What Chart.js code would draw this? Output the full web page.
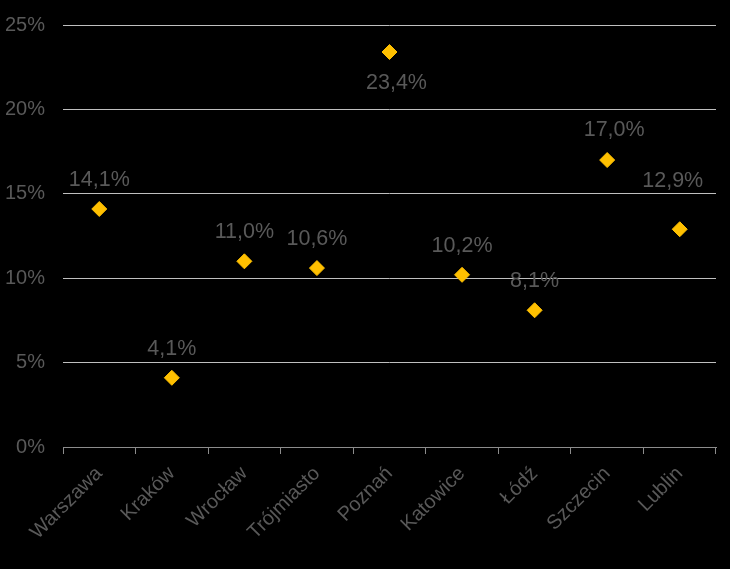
<!DOCTYPE html>
<html>
<head>
<meta charset="utf-8">
<script src="https://cdn.jsdelivr.net/npm/chart.js@4"></script>
<style>
  html, body { margin: 0; padding: 0; background: #000; }
  #wrap { width: 730px; height: 569px; }
</style>
</head>
<body>
<div id="wrap"><canvas id="chart"></canvas></div>
<script>
"use strict";

/* ── data ─────────────────────────────────────────────────────────────── */
const cities = ["Warszawa", "Kraków", "Wrocław", "Trójmiasto", "Poznań",
                "Katowice", "Łódź", "Szczecin", "Lublin"];
const values = [14.1, 4.1, 11.0, 10.6, 23.4, 10.2, 8.1, 17.0, 12.9];
const yTicks = [0, 5, 10, 15, 20, 25];

/* label placement tweaks (pixels), as in the original layout */
const labelNudge = {
  "Poznań":   { dx: 7,  dy: 31 },
  "Szczecin": { dx: 7,  dy: -30 },
  "Lublin":   { dx: -7, dy: -48 }
};

const FONT = "'Liberation Sans', Arial, sans-serif";
const TEXT = "#595959";

/* ── value labels ─────────────────────────────────────────────────────── */
const valueLabels = {
  id: "valueLabels",
  afterDatasetsDraw(chart) {
    const ctx = chart.ctx;
    const meta = chart.getDatasetMeta(0);
    ctx.save();
    ctx.font = "21.5px " + FONT;
    ctx.fillStyle = TEXT;
    ctx.textAlign = "center";
    ctx.textBaseline = "middle";
    meta.data.forEach((pt, i) => {
      const txt = values[i].toFixed(1).replace(".", ",") + "%";
      const n = labelNudge[cities[i]] || { dx: 0, dy: -29 };
      ctx.fillText(txt, pt.x + n.dx, pt.y + n.dy);
    });
    ctx.restore();
  }
};

new Chart(document.getElementById("chart"), {
  type: "line",
  data: {
    labels: cities,
    datasets: [{
      data: values,
      showLine: false,
      pointStyle: "rectRot",
      pointRadius: 7.5,
      pointHoverRadius: 7.5,
      backgroundColor: "#FFC000",
      borderColor: "#FFC000",
      borderWidth: 1
    }]
  },
  options: {
    responsive: true, maintainAspectRatio: false,
    animation: false,
    layout: { padding: { top: 25, right: 14, left: 0, bottom: 0 } },
    plugins: { legend: { display: false }, tooltip: { enabled: false } },
    scales: {
      x: {
        offset: true,
        grid: { offset: true, drawOnChartArea: false, color: "#8c8c8c", tickLength: 7 },
        border: { color: "#8c8c8c", width: 1 },
        ticks: { color: TEXT, font: { family: FONT, size: 20 },
                 minRotation: 45, maxRotation: 45, padding: 8 },
        afterFit: (s) => { s.height = 122; s.paddingLeft = 0; s.paddingRight = 0; }
      },
      y: {
        min: 0, max: 25,
        afterBuildTicks: (s) => { s.ticks = yTicks.map(v => ({ value: v })); },
        grid: { color: "#bfbfbf", drawTicks: false },
        border: { display: false },
        ticks: { color: TEXT, font: { family: FONT, size: 20 }, padding: 18,
                 callback: (v) => v + "%" },
        afterFit: (s) => { s.width = 63; s.paddingTop = 0; s.paddingBottom = 0; }
      }
    }
  },
  plugins: [valueLabels]
});
</script>
</body>
</html>
